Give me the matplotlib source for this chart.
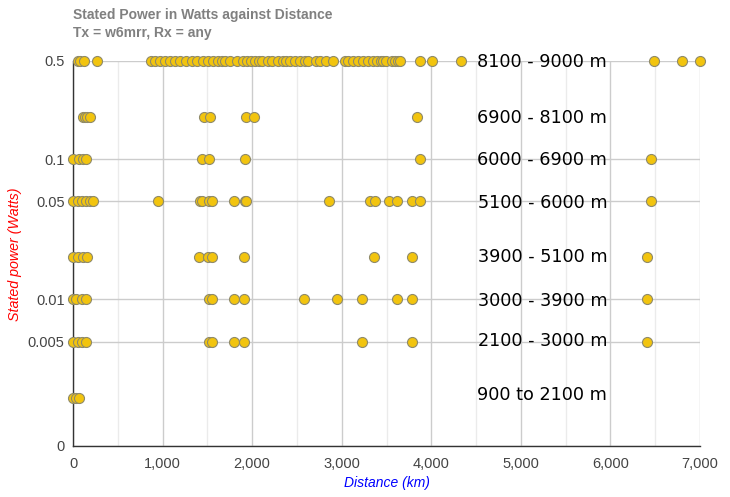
import matplotlib
matplotlib.use("Agg")
import matplotlib.pyplot as plt
from matplotlib.ticker import FixedLocator, NullLocator, FuncFormatter

# ---- data (distance km, stated power W) ----
d_05 = [56, 78, 123, 268, 871, 915, 971, 1027, 1083, 1139, 1194, 1261, 1328, 1384,
        1451, 1507, 1563, 1619, 1663, 1697, 1753, 1831, 1898, 1943, 1987, 2032, 2077,
        2110, 2177, 2222, 2289, 2345, 2378, 2423, 2479, 2535, 2590, 2624, 2713, 2758,
        2825, 2903, 3037, 3070, 3126, 3182, 3238, 3293, 3349, 3394, 3439, 3461, 3494,
        3561, 3595, 3628, 3651, 3874, 4008, 4332, 6486, 6799, 7000]
d_02 = [112, 135, 156, 190, 1463, 1530, 1931, 2021, 3840]
d_01 = [0, 67, 112, 145, 1440, 1518, 1920, 3874, 6453]
d_005 = [0, 56, 100, 145, 190, 223, 949, 1418, 1440, 1518, 1552, 1797, 1920, 1930,
         2858, 3316, 3372, 3528, 3617, 3785, 3874, 6453]
d_002 = [0, 56, 112, 156, 1407, 1507, 1552, 1909, 3361, 3785, 6408]
d_001 = [0, 33, 100, 145, 1518, 1552, 1797, 1909, 2579, 2947, 3227, 3617, 3785, 6408]
d_0005 = [0, 56, 100, 145, 1518, 1552, 1797, 1909, 3227, 3785, 6408]
d_0002 = [0, 33, 67]

power_levels = [0.5, 0.2, 0.1, 0.05, 0.02, 0.01, 0.005, 0.002]
distances = [d_05, d_02, d_01, d_005, d_002, d_001, d_0005, d_0002]

band_labels = ["8100 - 9000 m", "6900 - 8100 m", "6000 - 6900 m", "5100 - 6000 m",
               "3900 - 5100 m", "3000 - 3900 m", "2100 - 3000 m", "900 to 2100 m"]
band_y = [0.49, 0.195, 0.098, 0.049, 0.02, 0.0098, 0.0051, 0.0021]

y_ticks = [0.000904, 0.005, 0.01, 0.05, 0.1, 0.5]
y_tick_labels = ["0", "0.005", "0.01", "0.05", "0.1", "0.5"]
x_ticks = [0, 1000, 2000, 3000, 4000, 5000, 6000, 7000]

title_lines = ["Stated Power in Watts against Distance", "Tx = w6mrr, Rx = any"]

# ---- figure ----
W, H = 730, 497
fig = plt.figure(figsize=(W / 100, H / 100), dpi=100)
L, R, T, B = 73, 700, 61, 446
ax = fig.add_axes([L / W, (H - B) / H, (R - L) / W, (B - T) / H])

ax.set_yscale("log")
ax.set_xlim(0, 7000)
ax.set_ylim(y_ticks[0], 0.5)

# grid
ax.xaxis.set_major_locator(FixedLocator(x_ticks))
ax.xaxis.set_minor_locator(FixedLocator([500, 1500, 2500, 3500, 4500, 5500, 6500]))
ax.yaxis.set_major_locator(FixedLocator(y_ticks))
ax.yaxis.set_minor_locator(NullLocator())
ax.set_yticklabels(y_tick_labels)
ax.xaxis.set_major_formatter(FuncFormatter(lambda v, p: f"{int(v):,}"))
ax.grid(True, which="major", color="#cccccc", linewidth=1)
ax.grid(True, which="minor", axis="x", color="#ebebeb", linewidth=1)
ax.set_axisbelow(True)

for s in ["top", "right"]:
    ax.spines[s].set_visible(False)
for s in ["left", "bottom"]:
    ax.spines[s].set_color("#333333")
    ax.spines[s].set_linewidth(1)

ax.tick_params(which="both", length=0)
ax.tick_params(axis="y", pad=6, labelsize=10.5, labelcolor="#444444")
ax.tick_params(axis="x", pad=8, labelsize=10.5, labelcolor="#444444")
for lab in ax.get_xticklabels() + ax.get_yticklabels():
    lab.set_fontfamily("Liberation Sans")

# points
for p, ds in zip(power_levels, distances):
    ax.scatter(ds, [p] * len(ds), s=52, c="#f2c40e", edgecolors="#8f8a6a",
               linewidths=0.8, zorder=3, clip_on=False)

# band annotations
for txt, yv in zip(band_labels, band_y):
    ax.text(5240, yv, txt, ha="center", va="center", fontsize=12.7,
            family="DejaVu Sans", color="black", zorder=4)

# titles
fig.text(L / W, 1 - 15 / H, title_lines[0], ha="left", va="center",
         fontsize=10, fontweight="bold", color="#808080", family="Liberation Sans")
fig.text(L / W, 1 - 33 / H, title_lines[1], ha="left", va="center",
         fontsize=10, fontweight="bold", color="#808080", family="Liberation Sans")

# axis labels
fig.text(15 / W, 1 - 254 / H, "Stated power (Watts)", rotation=90, ha="center",
         va="center", fontsize=10.3, style="italic", color="red", family="Liberation Sans")
fig.text(387 / W, 1 - 483 / H, "Distance (km)", ha="center", va="center",
         fontsize=10, style="italic", color="blue", family="Liberation Sans")

fig.savefig("out.png", dpi=100)
